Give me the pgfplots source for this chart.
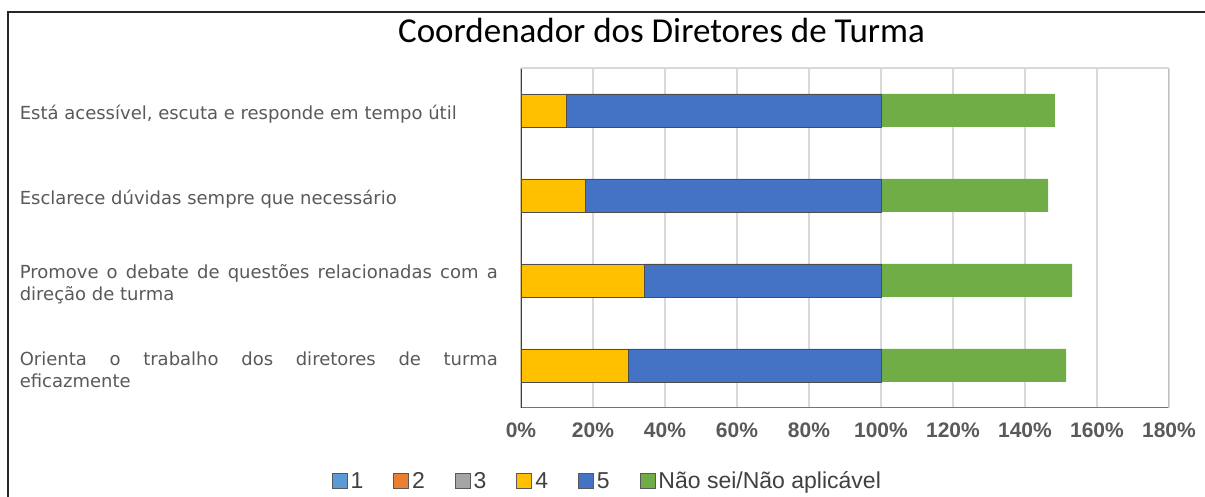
\documentclass[border=0pt]{standalone}
\usepackage{fontspec}
\setmainfont{Liberation Sans}
\newfontfamily\dejavu{DejaVu Sans}
\newfontfamily\carlito{Carlito}
\usepackage{pgfplots}
\pgfplotsset{compat=1.18}
\definecolor{c1}{HTML}{5B9BD5}
\definecolor{c2}{HTML}{ED7D31}
\definecolor{c3}{HTML}{A5A5A5}
\definecolor{c4}{HTML}{FFC000}
\definecolor{c5}{HTML}{4472C4}
\definecolor{c6}{HTML}{70AD47}
\definecolor{txt}{HTML}{595959}
\definecolor{gridc}{HTML}{D9D9D9}
\definecolor{borderc}{HTML}{BFBFBF}
\pgfplotsset{sqlegend/.style={legend image code/.code={\draw[##1, draw=black!65, line width=0.8pt] (0pt,-7.5pt) rectangle (15pt,7.5pt);}}}
\begin{document}
\begin{tikzpicture}
\useasboundingbox (-521pt,-89pt) rectangle (684pt,408pt);
\begin{axis}[
  at={(0,0)}, anchor=south west,
  scale only axis, width=648pt, height=340pt,
  xbar stacked, bar width=33pt,
  xmin=0, xmax=180, ymin=-0.5, ymax=3.5,
  xtick={0,20,40,60,80,100,120,140,160,180},
  xticklabels={0\%,20\%,40\%,60\%,80\%,100\%,120\%,140\%,160\%,180\%},
  ytick={0,1,2,3},
  yticklabels={{Orienta o trabalho dos diretores de turma\linebreak eficazmente},
               {Promove o debate de questões relacionadas com a\linebreak direção de turma},
               {Esclarece dúvidas sempre que necessário},
               {Está acessível, escuta e responde em tempo útil}},
  major tick length=0pt,
  xmajorgrids, major grid style={gridc, line width=1.5pt},
  axis line style={draw=none},
  xticklabel style={font=\fontsize{21}{25}\selectfont\bfseries, text=txt, yshift=-11pt},
  yticklabel style={font=\dejavu\fontsize{18}{22}\selectfont, text=txt, text width=478pt, align=justify, anchor=east, inner sep=0pt, xshift=-23pt, yshift=-4pt},
  legend style={draw=none, fill=none, legend columns=-1, at={(0.134,-0.2147)}, anchor=center,
    font=\fontsize{23}{27}\selectfont, text=black!75,
    nodes={inner sep=3pt},
    /tikz/every even column/.append style={column sep=27pt}},
]
\addlegendimage{fill=c1, sqlegend}
\addlegendimage{fill=c2, sqlegend}
\addlegendimage{fill=c3, sqlegend}
\addplot[fill=c4, draw=black!70, line width=0.8pt, sqlegend]
  coordinates {(12.5,3) (17.8,2) (34.4,1) (29.8,0)};
\addplot[fill=c5, draw=black!70, line width=0.8pt, sqlegend]
  coordinates {(87.5,3) (82.2,2) (65.6,1) (70.2,0)};
\addplot[fill=c6, draw=none, sqlegend]
  coordinates {(48.3,3) (46.4,2) (53.1,1) (51.4,0)};
\legend{1,2,3,4,5,Não sei/Não aplicável}
\draw[gridc, line width=1.5pt] (rel axis cs:0,1) -- (rel axis cs:1,1);
\draw[borderc, line width=1.5pt] (rel axis cs:1,0) -- (rel axis cs:1,1);
\draw[black!75, line width=1.5pt] (rel axis cs:0,0) -- (rel axis cs:0,1);
\draw[black!55, line width=1.5pt] (rel axis cs:0,0) -- (rel axis cs:1,0);
\end{axis}
\node[font=\carlito\fontsize{35}{40}\selectfont, text=black] at (140.5pt,378pt) {Coordenador dos Diretores de Turma};
\draw[line width=2pt, black!85] (-513pt,-89pt) -- (-513pt,396pt) -- (684pt,396pt);
\end{tikzpicture}
\end{document}
